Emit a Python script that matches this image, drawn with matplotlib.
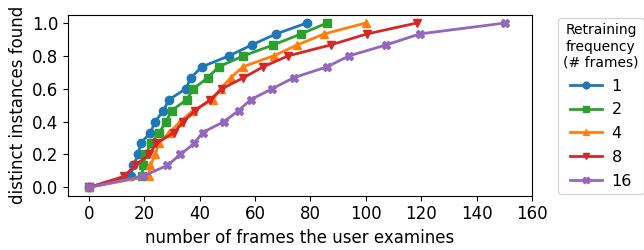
import numpy as np
import matplotlib.pyplot as plt

# 15 distinct instances -> y steps of 1/15
y_steps = np.arange(16) / 15.0

freqs = ["1", "2", "4", "8", "16"]
frames_1 = [0, 15, 16, 17.8, 18.6, 22.2, 23.9, 26.9, 28.9, 35, 36.8, 40.8, 50.6, 58.8, 67.6, 78.7]
frames_2 = [0, 19, 19.6, 20.4, 22.5, 25.3, 27.9, 29.8, 35.3, 37.7, 42.9, 46.8, 55.8, 66.6, 76.6, 86]
frames_4 = [0, 21.5, 22.2, 23.9, 25.2, 29, 33, 37.5, 44.8, 47.5, 51.2, 55.6, 66.7, 75.3, 85, 100]
frames_8 = [0, 12.7, 16.6, 21.8, 24.2, 30.7, 34.1, 38.3, 43.8, 48, 55.8, 62.9, 72, 87.4, 100.4, 118.5]
frames_16 = [0, 19.4, 28.3, 33, 38, 41, 48.8, 54, 58.4, 66.2, 73.9, 86, 94, 107.4, 119.5, 150.4]

series = [frames_1, frames_2, frames_4, frames_8, frames_16]
colors = ["C0", "C2", "C1", "C3", "C4"]
markers = ["o", "s", "^", "v", "X"]

fig = plt.figure(figsize=(6.44, 2.5), dpi=100)
ax = fig.add_axes([0.106, 0.218, 0.72, 0.723])

for xs, lab, c, m in zip(series, freqs, colors, markers):
    ax.plot(xs, y_steps, color=c, marker=m, label=lab, lw=2, ms=6)

ax.set_xlim(-7.5, 160)
ax.set_xticks(np.arange(0, 161, 20))
ax.set_yticks(np.arange(0, 1.01, 0.2))
ax.tick_params(labelsize=12)
ax.set_xlabel("number of frames the user examines", fontsize=12)
ax.set_ylabel("distinct instances found", fontsize=12)

leg = ax.legend(title="Retraining\nfrequency\n(# frames)", loc="upper left",
                bbox_to_anchor=(1.045, 1.01), fontsize=11.5, title_fontsize=10,
                markerscale=0.8, borderpad=0.35, labelspacing=0.55,
                handletextpad=0.6, borderaxespad=0.3)
leg.get_title().set_multialignment("center")

fig.savefig("out.png", dpi=100)
